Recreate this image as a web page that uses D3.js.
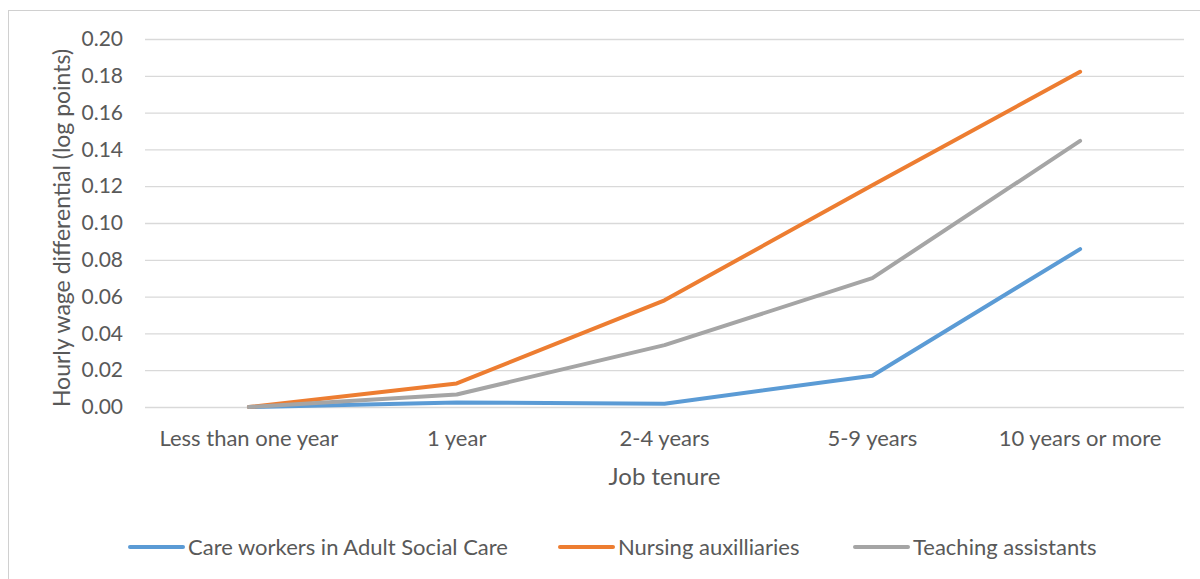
<!DOCTYPE html>
<html>
<head>
<meta charset="utf-8">
<script src="https://cdn.jsdelivr.net/npm/d3@7"></script>
<style>
  html, body { margin: 0; padding: 0; background: #fff; }
  svg { display: block; }
  text { font-family: Lato, "Open Sans", sans-serif; fill: #595959; }
</style>
</head>
<body>
<svg id="chart" width="1200" height="579"></svg>
<script>
// Job tenure categories and log-point wage differentials per occupation
const categories = ["Less than one year", "1 year", "2-4 years", "5-9 years", "10 years or more"];
const careWorkers = [0, 0.0024, 0.0018, 0.0170, 0.0858];
const nursingAux = [0, 0.0128, 0.0580, 0.1205, 0.1822];
const teachingAssistants = [0, 0.0068, 0.0336, 0.0700, 0.1446];
const yTicks = [0, 0.02, 0.04, 0.06, 0.08, 0.10, 0.12, 0.14, 0.16, 0.18, 0.20];

const seriesNames = ["Care workers in Adult Social Care", "Nursing auxilliaries", "Teaching assistants"];
const seriesColors = ["#5B9BD5", "#ED7D31", "#A5A5A5"];
const series = [careWorkers, nursingAux, teachingAssistants].map((values, i) => ({
  name: seriesNames[i], color: seriesColors[i], values
}));

const svg = d3.select("#chart");

// outer chart frame
svg.append("rect")
  .attr("x", 8.5).attr("y", 10.5)
  .attr("width", 1200).attr("height", 600)
  .attr("fill", "none").attr("stroke", "#d0d0d0").attr("stroke-width", 1);

const plot = { left: 145, right: 1184, top: 39, bottom: 407 };

const x = d3.scaleBand().domain(categories).range([plot.left, plot.right]);
const y = d3.scaleLinear().domain([0, 0.2]).range([plot.bottom, plot.top]);
const cx = d => x(d) + x.bandwidth() / 2;

// horizontal gridlines + y tick labels
const yAxis = d3.axisLeft(y)
  .tickValues(yTicks)
  .tickFormat(d3.format(".2f"))
  .tickSize(-(plot.right - plot.left))
  .tickPadding(22);

const gy = svg.append("g")
  .attr("transform", `translate(${plot.left},0)`)
  .call(yAxis);
gy.select(".domain").remove();
gy.selectAll(".tick line").attr("stroke", "#d9d9d9").attr("stroke-width", 1.3);
gy.selectAll(".tick text")
  .attr("font-size", 21)
  .attr("fill", "#595959")
  .style("font-family", "Lato, 'Open Sans', sans-serif");

// category labels
const xAxis = d3.axisBottom(x).tickSize(0).tickPadding(23);
const gx = svg.append("g")
  .attr("transform", `translate(0,${plot.bottom})`)
  .call(xAxis);
gx.select(".domain").remove();
gx.selectAll(".tick text")
  .attr("font-size", 22)
  .attr("fill", "#595959")
  .style("font-family", "Lato, 'Open Sans', sans-serif");

// series lines
const line = d3.line()
  .x((d, i) => cx(categories[i]))
  .y(d => y(d));

svg.append("g").selectAll("path")
  .data(series)
  .join("path")
  .attr("d", d => line(d.values))
  .attr("fill", "none")
  .attr("stroke", d => d.color)
  .attr("stroke-width", 4)
  .attr("stroke-linejoin", "round")
  .attr("stroke-linecap", "round");

// axis titles
svg.append("text")
  .attr("transform", `translate(70,228) rotate(-90)`)
  .attr("text-anchor", "middle")
  .attr("font-size", 23)
  .text("Hourly wage differential (log points)");

svg.append("text")
  .attr("x", (plot.left + plot.right) / 2)
  .attr("y", 485)
  .attr("text-anchor", "middle")
  .attr("font-size", 24)
  .text("Job tenure");

// legend
const legendX = [130, 560, 855];
const legend = svg.append("g").selectAll("g")
  .data(series)
  .join("g")
  .attr("transform", (d, i) => `translate(${legendX[i]},547)`);
legend.append("line")
  .attr("x1", 0).attr("x2", 53)
  .attr("stroke", d => d.color)
  .attr("stroke-width", 4)
  .attr("stroke-linecap", "round");
legend.append("text")
  .attr("x", 58)
  .attr("dy", "0.35em")
  .attr("font-size", 22)
  .text(d => d.name);
</script>
</body>
</html>
